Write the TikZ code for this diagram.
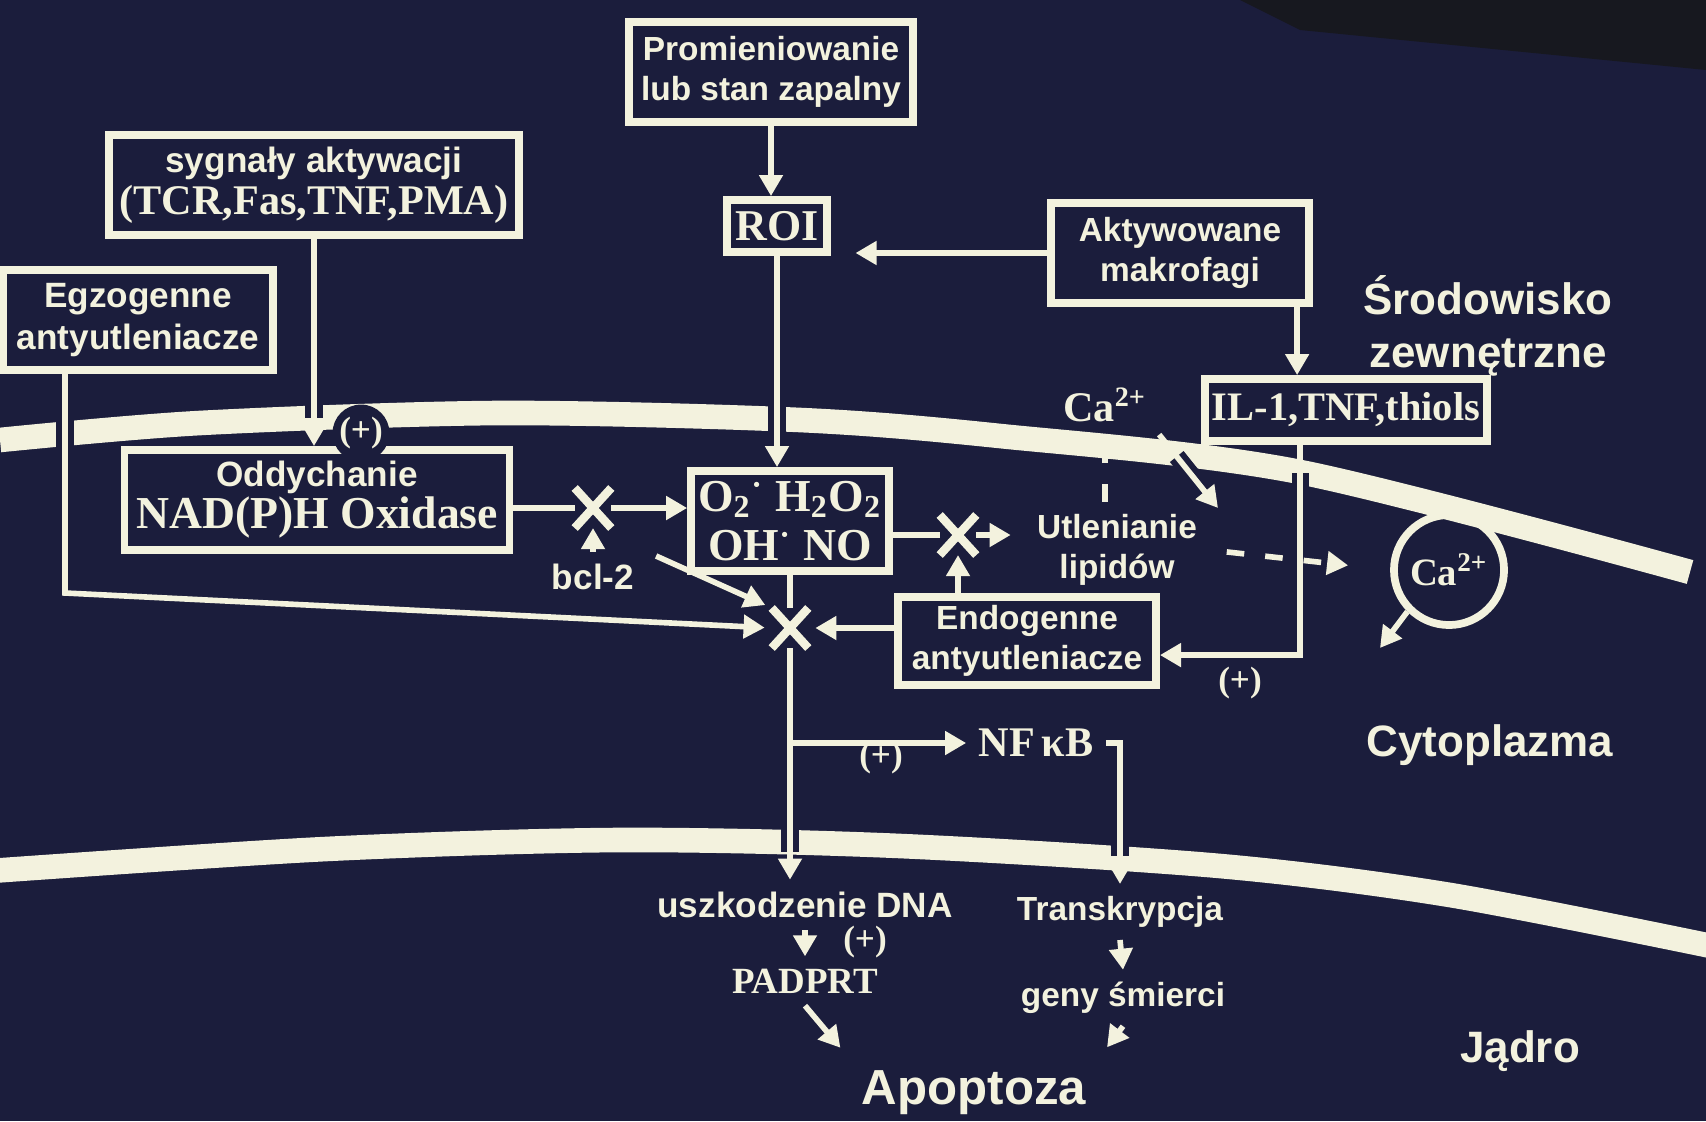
\documentclass[tikz,border=0pt]{standalone}
\usepackage{fontspec}
\setmainfont{Liberation Sans}
\newfontfamily\serifbf{Liberation Serif}
\definecolor{APOnavy}{HTML}{1B1D3C}
\definecolor{APOcream}{HTML}{F3F2DE}
\definecolor{APOshade}{HTML}{17181F}
\usetikzlibrary{arrows.meta, shapes.misc, calc}

\begin{document}
\begin{tikzpicture}[x=0.01cm, y=-0.01cm,
   box/.style={draw=APOcream, line width=2.2pt, fill=APOnavy, align=center, inner sep=2pt, text=APOcream},
   sanslab/.style={font=\bfseries\fontsize{9.5}{11.5}\selectfont, align=center, text=APOcream},
   bigsans/.style={font=\bfseries\fontsize{10}{12}\selectfont, align=center, text=APOcream},
   seriflab/.style={font=\serifbf\bfseries\fontsize{12}{13.5}\selectfont, align=center, text=APOcream},
   region/.style={font=\bfseries\fontsize{12.5}{15}\selectfont, align=center, text=APOcream},
   pluslab/.style={font=\serifbf\bfseries\fontsize{10}{12}\selectfont, text=APOcream},
   link/.style={draw=APOcream, line width=1.6pt},
   arr/.style={link, -{Triangle[length=6pt,width=6.5pt]}},
   dasharr/.style={arr, dash pattern=on 5pt off 6pt},
   halo/.style={preaction={draw=APOnavy, line width=5pt, -, solid, shorten <=8pt, shorten >=8pt}},
   membrane/.style={draw=APOcream, line width=7pt},
   blockx/.style={cross out, draw=APOcream, line width=2.4pt, minimum width=8pt, minimum height=9pt, inner sep=0pt}
]
   % Background (photographed slide)
   \fill[APOnavy] (0,0) rectangle (1706,1121);
   \useasboundingbox (0,0) rectangle (1706,1121);
   \fill[APOshade] (1240,0) -- (1706,0) -- (1706,70) -- (1300,30) -- cycle;

   % Cell membrane and nuclear envelope
   \draw[membrane] plot[smooth] coordinates {(0,440) (200,423) (500,413) (800,420) (1000,436) (1300,472) (1690,572)};
   \draw[membrane] plot[smooth] coordinates {(-10,871) (326,849) (620,840) (900,846) (1220,866) (1450,895) (1716,947)};

   % Boxes
   \node[box, sanslab, minimum width=2.84cm, minimum height=1.0cm] (prom) at (771,72) {Promieniowanie\\lub stan zapalny};
   \node[box, seriflab, font=\serifbf\bfseries\fontsize{12.5}{14}\selectfont, minimum width=1.0cm, minimum height=0.52cm] (roi) at (777,226) {ROI};
   \node[box, bigsans, minimum width=4.1cm, minimum height=1.0cm] (sygn) at (314,185)
      {sygnały aktywacji\\{\serifbf\fontsize{12}{14}\selectfont (TCR,Fas,TNF,PMA)}};
   \node[box, bigsans, minimum width=2.7cm, minimum height=1.0cm] (egzo) at (138,320) {Egzogenne\\antyutleniacze};
   \node[box, bigsans, minimum width=3.85cm, minimum height=1.0cm] (oddych) at (317,500)
      {Oddychanie\\{\serifbf\fontsize{13}{15}\selectfont NAD(P)H Oxidase}};
   \node[box, seriflab, font=\serifbf\bfseries\fontsize{13}{14}\selectfont, minimum width=1.97cm, minimum height=1.0cm] (o2) at (790,521)
      {O\textsubscript{2}\textsuperscript{·} H\textsubscript{2}O\textsubscript{2}\\OH\textsuperscript{·} NO};
   \node[box, sanslab, minimum width=2.58cm, minimum height=1.0cm] (makro) at (1180,253) {Aktywowane\\makrofagi};
   \node[box, seriflab, font=\serifbf\bfseries\fontsize{11.5}{13}\selectfont, minimum width=2.76cm, minimum height=0.62cm] (il) at (1346,410) {IL-1,TNF,thiols};
   \node[box, sanslab, minimum width=2.58cm, minimum height=0.88cm] (endo) at (1027,641) {Endogenne\\antyutleniacze};

   % Free labels
   \node[region] (srod) at (1488,326) {Środowisko\\zewnętrzne};
   \node[region] (cyto) at (1490,745) {Cytoplazma};
   \node[region] (jadro) at (1520,1051) {Jądro};
   \node[region, font=\bfseries\fontsize{14}{16}\selectfont] (apop) at (974,1093) {Apoptoza};
   \node[sanslab] (utl) at (1117,550) {Utlenianie\\lipidów};
   \node[seriflab] (ca1) at (1105,405) {Ca\textsuperscript{2+}};
   \node[draw=APOcream, circle, line width=2.2pt, minimum size=1.1cm, inner sep=0pt, seriflab, font=\serifbf\bfseries\fontsize{11}{12}\selectfont] (ca2) at (1449,570) {Ca\textsuperscript{2+}};
   \node[bigsans] (bcl) at (593,577) {bcl-2};
   \node[seriflab] (nfkb) at (1036,743) {NF\,κB};
   \node[bigsans] (uszk) at (805,905) {uszkodzenie DNA};
   \node[seriflab, font=\serifbf\bfseries\fontsize{10.5}{12}\selectfont] (padprt) at (805,981) {PADPRT};
   \node[sanslab] (trans) at (1120,912) {Transkrypcja};
   \node[sanslab] (geny) at (1123,998) {geny śmierci};
   \node[pluslab, fill=APOnavy, circle, inner sep=0.3pt] (p1) at (361,433) {(+)};
   \node[pluslab] (p2) at (1240,683) {(+)};
   \node[pluslab] (p3) at (881,758) {(+)};
   \node[pluslab] (p4) at (865,942) {(+)};

   % Block points
   \node[blockx] (x1) at (593,508) {};
   \node[blockx] (x2) at (790,628) {};
   \node[blockx] (x3) at (958,535) {};

   % Free ends and corners
   \coordinate (egzoturn) at (65,593);
   \coordinate (caend) at (1218,508);
   \coordinate (caout) at (1380,648);

   % Signals from outside
   \draw[arr, halo] (sygn.south) -- (sygn.south |- oddych.north);
   \draw[arr, halo, shorten >=2pt] (egzo.south -| egzoturn) -- (egzoturn) -- (x2.west);
   \draw[arr] (prom.south) -- (prom.south |- roi.north);
   \draw[arr, shorten >=7pt] (makro.west) -- (makro.west -| roi.east);
   \draw[arr, halo] (roi.south) -- (roi.south |- o2.north);
   \draw[arr] ([xshift=-4.5pt]makro.south east) -- ([xshift=-4.5pt]makro.south east |- il.north);
   \draw[arr, halo] ([xshift=-13pt]il.south) |- ([yshift=-4pt]endo.east);

   % Oxidase, bcl-2 and antioxidants
   \draw[link] (oddych.east |- x1) -- (x1);
   \draw[arr] (x1) -- (x1 -| o2.west);
   \draw[arr] (bcl.north) -- (x1.south);
   \draw[arr, shorten <=3pt, shorten >=2pt] (bcl.north east) -- (x2.north west);
   \draw[arr, shorten >=2pt] (endo.west |- x2) -- (x2.east);
   \draw[link] (o2.east |- x3) -- (x3);
   \draw[arr, shorten >=4pt] (x3) -- (x3 -| utl.west);
   \draw[arr] (endo.north -| x3) -- (x3.south);

   % Towards the nucleus
   \draw[link] (o2.south) -- (x2.north);
   \draw[arr, halo] (x2.south) -- (x2.south |- uszk.north);
   \draw[arr] (x2 |- nfkb.west) -- (nfkb.west);
   \draw[arr, halo] (nfkb.east) -| (trans.north);
   \draw[arr] (uszk.south) -- (padprt.north);
   \draw[arr] (trans.south) -- (geny.north);
   \draw[arr, shorten >=4pt] (padprt.south) -- (apop.north west);
   \draw[arr, shorten >=4pt] (geny.south) -- (apop.north east);

   % Calcium
   \draw[dasharr, halo] (ca1.south |- utl.north) -- (ca1.south);
   \draw[arr, halo] (ca1.south east) -- (caend);
   \draw[dasharr, shorten <=5pt, shorten >=12pt] (utl.east) -- (ca2.west);
   \draw[arr] (ca2.south west) -- (caout);
\end{tikzpicture}
\end{document}
